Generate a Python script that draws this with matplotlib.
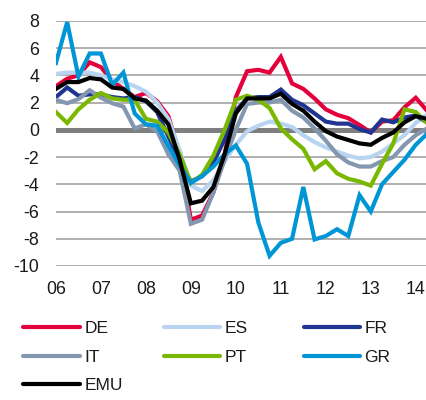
import numpy as np
import matplotlib
matplotlib.use("Agg")
import matplotlib.pyplot as plt
from matplotlib.lines import Line2D

plt.rcParams["font.family"] = ["Liberation Sans", "DejaVu Sans"]
plt.rcParams["axes.unicode_minus"] = False

# quarterly data, 2006Q1 .. 2014Q2
quarters = np.arange(34)
year_labels = ["06", "07", "08", "09", "10", "11", "12", "13", "14"]

de = [3.2, 3.75, 4.0, 4.95, 4.6, 3.6, 3.0, 2.4, 2.7, 2.1, 1.0, -1.8, -6.6, -6.3, -4.6, -1.8,
      2.4, 4.3, 4.4, 4.2, 5.35, 3.4, 3.0, 2.3, 1.5, 1.1, 0.85, 0.35, -0.2, 0.6, 0.7, 1.65, 2.35, 1.4]
es = [4.1, 4.2, 4.2, 4.2, 4.0, 3.7, 3.5, 3.2, 2.8, 2.0, 0.8, -1.5, -4.1, -4.5, -3.7, -2.3,
      -1.1, -0.1, 0.3, 0.6, 0.45, 0.2, -0.4, -0.9, -1.3, -1.6, -1.9, -2.1, -2.0, -1.6, -1.0, -0.4, 0.5, 1.1]
fr = [2.4, 3.1, 2.5, 2.6, 2.6, 2.4, 2.3, 2.4, 2.1, 1.3, -0.5, -2.3, -3.8, -3.4, -2.4, -0.7,
      1.4, 2.3, 2.4, 2.4, 2.95, 2.2, 1.8, 1.2, 0.6, 0.45, 0.45, 0.05, -0.2, 0.75, 0.55, 0.9, 1.05, 0.55]
it = [2.2, 1.95, 2.25, 2.9, 2.35, 1.95, 1.7, 0.1, 0.4, -0.1, -1.8, -3.0, -6.9, -6.6, -4.6, -2.2,
      0.0, 1.9, 2.0, 2.0, 2.2, 1.4, 0.9, 0.1, -0.8, -1.8, -2.4, -2.7, -2.7, -2.3, -2.0, -1.1, -0.4, 0.1]
pt = [1.3, 0.5, 1.5, 2.2, 2.7, 2.3, 2.2, 2.2, 0.8, 0.6, -0.2, -1.8, -3.9, -3.3, -1.9, 0.0,
      2.2, 2.5, 2.2, 1.6, 0.1, -0.7, -1.4, -2.9, -2.3, -3.2, -3.6, -3.8, -4.1, -2.5, -1.0, 1.5, 1.3, 0.5]
gr = [4.9, 7.9, 3.9, 5.6, 5.6, 3.3, 4.2, 1.2, 0.4, 0.3, -1.2, -2.6, -3.9, -3.4, -2.7, -1.8,
      -1.15, -2.5, -6.8, -9.25, -8.3, -8.0, -4.2, -8.05, -7.8, -7.3, -7.8, -4.8, -6.0, -4.0, -3.1, -2.2, -1.1, -0.3]
emu = [3.0, 3.5, 3.5, 3.8, 3.7, 3.1, 3.0, 2.3, 2.15, 1.4, 0.4, -2.2, -5.4, -5.2, -4.2, -1.8,
       1.2, 2.3, 2.3, 2.3, 2.65, 1.9, 1.4, 0.6, -0.1, -0.5, -0.75, -1.0, -1.1, -0.6, -0.2, 0.55, 1.0, 0.8]

series = [
    ("DE", de, "#e4003a"),
    ("ES", es, "#b8d4f0"),
    ("FR", fr, "#1f3591"),
    ("IT", it, "#8497b0"),
    ("PT", pt, "#7ab800"),
    ("GR", gr, "#0096d6"),
    ("EMU", emu, "#000000"),
]

fig = plt.figure(figsize=(4.27, 4.0), dpi=100)
ax = fig.add_axes([0.131, 0.335, 0.869, 0.613])

# grid lines
for y in range(-10, 9, 2):
    if y == 0:
        ax.axhline(y, color="#7f7f7f", lw=3.6, zorder=1)
    else:
        ax.axhline(y, color="#9a9a9a", lw=1.1, zorder=1)

for name, vals, col in series:
    ax.plot(quarters, vals, color=col, lw=3.0, solid_joinstyle="miter", zorder=3)

ax.set_xlim(0, 33)
ax.set_ylim(-10, 8)
ax.set_yticks(range(-10, 9, 2))
ax.set_xticks(np.arange(0, 33, 4))
ax.set_xticklabels(year_labels)
ax.tick_params(axis="both", length=0, labelsize=12.8, colors="#1a1a1a")
ax.tick_params(axis="y", pad=12)
ax.tick_params(axis="x", pad=11)
for s in ax.spines.values():
    s.set_visible(False)

# legend, laid out in three columns
handles = {name: Line2D([], [], color=col, lw=3.0, solid_capstyle="round")
           for name, vals, col in series}
columns = [(["DE", "IT", "EMU"], 0.055), (["ES", "PT"], 0.383), (["FR", "GR"], 0.711)]
for names, xpos in columns:
    leg = fig.legend([handles[n] for n in names], names, loc="upper left",
                     bbox_to_anchor=(xpos, 0.198), frameon=False, fontsize=12.5,
                     handlelength=3.25, handletextpad=0.25, labelspacing=0.78,
                     borderaxespad=0, borderpad=0)
    for t in leg.get_texts():
        t.set_color("#1a1a1a")

fig.savefig("out.png", dpi=100)
